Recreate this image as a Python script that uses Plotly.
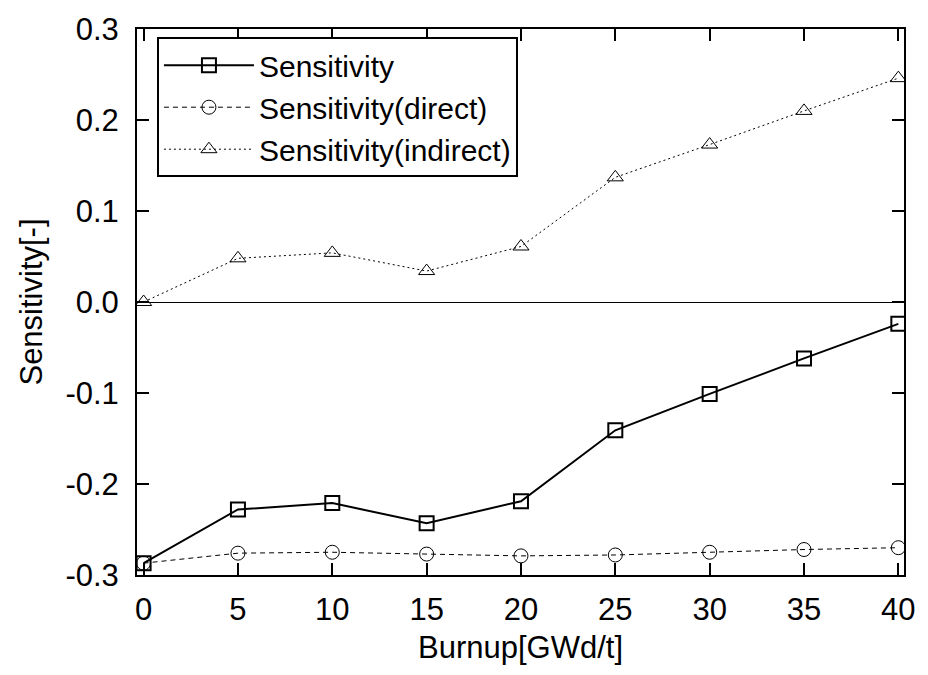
import plotly.graph_objects as go

burnup = [0, 5, 10, 15, 20, 25, 30, 35, 40]
sens_total = [-0.287, -0.228, -0.221, -0.243, -0.219, -0.141, -0.101, -0.062, -0.024]
sens_direct = [-0.287, -0.276, -0.275, -0.277, -0.279, -0.278, -0.275, -0.272, -0.270]
sens_indirect = [0.0, 0.048, 0.054, 0.034, 0.061, 0.137, 0.173, 0.210, 0.246]

x_ticks = [0, 5, 10, 15, 20, 25, 30, 35, 40]
y_ticks = [-0.3, -0.2, -0.1, 0.0, 0.1, 0.2, 0.3]

FONT = "Liberation Sans, Arial, sans-serif"

fig = go.Figure()
fig.add_trace(go.Scatter(
    x=burnup, y=sens_total, name="Sensitivity", mode="lines+markers",
    line=dict(color="black", width=2),
    marker=dict(symbol="square-open", size=14, color="black", line=dict(width=2, color="black")),
))
fig.add_trace(go.Scatter(
    x=burnup, y=sens_direct, name="Sensitivity(direct)", mode="lines+markers",
    line=dict(color="black", width=1, dash="5px,4px"),
    marker=dict(symbol="circle-open", size=14, color="black", line=dict(width=1, color="black")),
))
fig.add_trace(go.Scatter(
    x=burnup, y=sens_indirect, name="Sensitivity(indirect)", mode="lines+markers",
    line=dict(color="black", width=1, dash="2px,3px"),
    marker=dict(symbol="triangle-up-open", size=14, color="black", line=dict(width=1, color="black")),
))

axis_common = dict(
    showline=True, linecolor="black", linewidth=2, mirror="ticks",
    ticks="inside", ticklen=12, tickwidth=2, tickcolor="black",
    showgrid=False, tickfont=dict(family=FONT, size=31, color="black"),
)

fig.update_layout(
    width=928, height=675,
    margin=dict(l=137, r=18, t=22, b=100),
    paper_bgcolor="white", plot_bgcolor="white",
    font=dict(family=FONT, size=31, color="black"),
    xaxis=dict(
        range=[-0.35, 40.3], tickvals=x_ticks, ticktext=[str(v) for v in x_ticks],
        zeroline=False, ticklabelstandoff=6,
        title=dict(text="Burnup[GWd/t]", font=dict(family=FONT, size=31, color="black"), standoff=10),
        **axis_common,
    ),
    yaxis=dict(
        range=[-0.3, 0.3], tickvals=y_ticks, ticktext=[f"{v:.1f}" for v in y_ticks],
        zeroline=True, zerolinecolor="black", zerolinewidth=1, ticklabelstandoff=10,
        title=dict(text="Sensitivity[-]", font=dict(family=FONT, size=31, color="black"), standoff=14),
        **axis_common,
    ),
    legend=dict(
        x=0.026, y=0.985, xanchor="left", yanchor="top",
        bgcolor="white", bordercolor="black", borderwidth=2,
        font=dict(family=FONT, size=30, color="black"),
        tracegroupgap=0, itemwidth=90,
    ),
    showlegend=True,
)

fig.write_html("out.html")
